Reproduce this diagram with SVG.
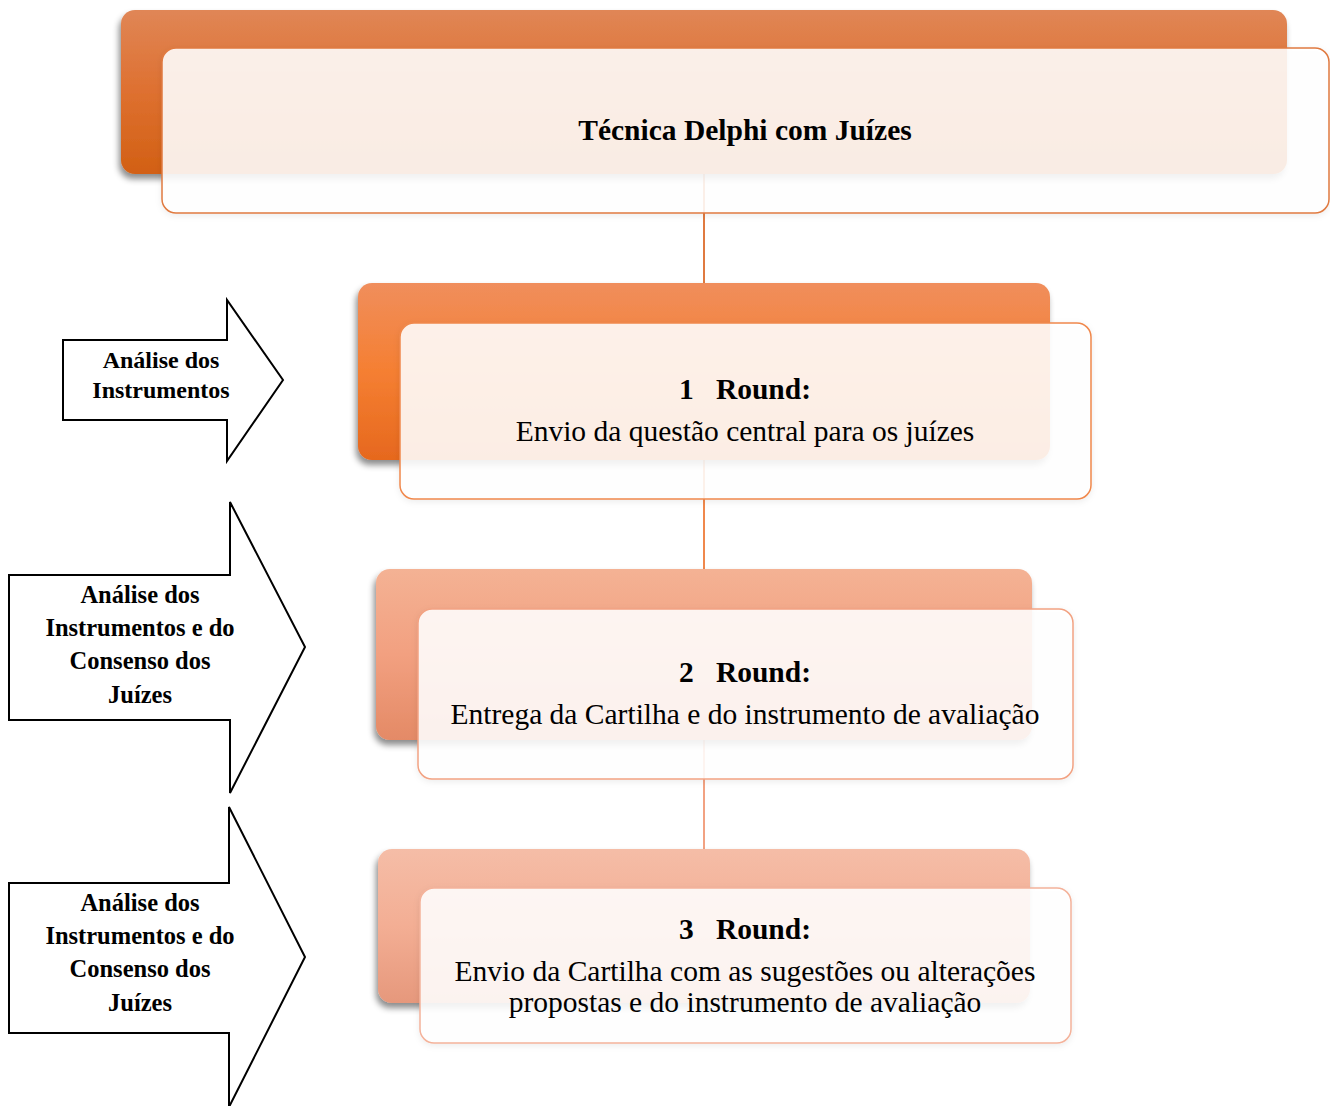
<svg xmlns="http://www.w3.org/2000/svg" width="1330" height="1106" viewBox="0 0 1330 1106">
<defs>
<linearGradient id="g0" x1="0" y1="0" x2="0" y2="1"><stop offset="0" stop-color="#e08656"/><stop offset="0.5" stop-color="#de7030"/><stop offset="1" stop-color="#d26014"/></linearGradient>
<linearGradient id="g1" x1="0" y1="0" x2="0" y2="1"><stop offset="0" stop-color="#f08e5c"/><stop offset="0.5" stop-color="#f57f32"/><stop offset="1" stop-color="#e6681e"/></linearGradient>
<linearGradient id="g2" x1="0" y1="0" x2="0" y2="1"><stop offset="0" stop-color="#f4b294"/><stop offset="0.5" stop-color="#f2a080"/><stop offset="1" stop-color="#e48a66"/></linearGradient>
<linearGradient id="g3" x1="0" y1="0" x2="0" y2="1"><stop offset="0" stop-color="#f5bda7"/><stop offset="0.5" stop-color="#f3ae94"/><stop offset="1" stop-color="#e6987c"/></linearGradient>
<filter id="sh" x="-5%" y="-10%" width="110%" height="125%"><feDropShadow dx="-2" dy="5" stdDeviation="3" flood-color="#000" flood-opacity="0.45"/></filter>
<filter id="sf" x="-5%" y="-10%" width="110%" height="125%"><feDropShadow dx="0" dy="2" stdDeviation="3" flood-color="#000" flood-opacity="0.08"/></filter>
</defs>
<style>
.front{fill:#fff;fill-opacity:0.88;stroke-width:1.5}
.b{font-family:"Liberation Serif","Times New Roman",serif;font-weight:bold;fill:#000;text-anchor:middle;white-space:pre}
.r{font-family:"Liberation Serif","Times New Roman",serif;fill:#000;text-anchor:middle}
.arrow{fill:#fff;stroke:#000;stroke-width:2}
</style>
<rect width="1330" height="1106" fill="#fff"/>
<g id="connectors" stroke-width="2" fill="none">
<line x1="704" y1="174" x2="704" y2="290" stroke="#e07a40"/>
<line x1="704" y1="460" x2="704" y2="575" stroke="#f0884c"/>
<line x1="704" y1="740" x2="704" y2="855" stroke="#f2a282"/>
</g>
<g id="node-top">
<rect x="121" y="10" width="1166" height="164" rx="14" fill="url(#g0)" filter="url(#sh)"/>
<rect class="front" x="162" y="48" width="1167" height="165" rx="14" stroke="#e07a40" filter="url(#sf)"/>
<text class="b" x="745" y="140" font-size="29.5">Técnica Delphi com Juízes</text>
</g>
<g id="node-1">
<rect x="358" y="283" width="692" height="177" rx="14" fill="url(#g1)" filter="url(#sh)"/>
<rect class="front" x="400" y="323" width="691" height="176" rx="14" stroke="#f0884c" filter="url(#sf)"/>
<text class="b" x="745" y="399" font-size="29.5" xml:space="preserve">1   Round:</text>
<text class="r" x="745" y="441" font-size="29.5">Envio da questão central para os juízes</text>
</g>
<g id="node-2">
<rect x="376" y="569" width="656" height="171" rx="14" fill="url(#g2)" filter="url(#sh)"/>
<rect class="front" x="418" y="609" width="655" height="170" rx="14" stroke="#f2a282" filter="url(#sf)"/>
<text class="b" x="745" y="682" font-size="29.5" xml:space="preserve">2   Round:</text>
<text class="r" x="745" y="724" font-size="29.5">Entrega da Cartilha e do instrumento de avaliação</text>
</g>
<g id="node-3">
<rect x="378" y="849" width="652" height="154" rx="14" fill="url(#g3)" filter="url(#sh)"/>
<rect class="front" x="420" y="888" width="651" height="155" rx="14" stroke="#f4b29a" filter="url(#sf)"/>
<text class="b" x="745" y="939" font-size="29.5" xml:space="preserve">3   Round:</text>
<text class="r" x="745" y="981" font-size="29.5">Envio da Cartilha com as sugestões ou alterações</text>
<text class="r" x="745" y="1012" font-size="29.5">propostas e do instrumento de avaliação</text>
</g>
<g id="arrow-1">
<polygon class="arrow" points="63,340 227,340 227,300 283,380 227,461 227,420 63,420"/>
<text class="b" x="161" y="368" font-size="24">Análise dos</text>
<text class="b" x="161" y="398" font-size="24">Instrumentos</text>
</g>
<g id="arrow-2">
<polygon class="arrow" points="9,575 230,575 230,502 305,647 230,793 230,720 9,720"/>
<text class="b" x="140" y="603" font-size="24.5">Análise dos</text>
<text class="b" x="140" y="636" font-size="24.5">Instrumentos e do</text>
<text class="b" x="140" y="669" font-size="24.5">Consenso dos</text>
<text class="b" x="140" y="703" font-size="24.5">Juízes</text>
</g>
<g id="arrow-3">
<polygon class="arrow" points="9,883 229,883 229,807 305,957 229,1107 229,1033 9,1033"/>
<text class="b" x="140" y="911" font-size="24.5">Análise dos</text>
<text class="b" x="140" y="944" font-size="24.5">Instrumentos e do</text>
<text class="b" x="140" y="977" font-size="24.5">Consenso dos</text>
<text class="b" x="140" y="1011" font-size="24.5">Juízes</text>
</g>
</svg>
